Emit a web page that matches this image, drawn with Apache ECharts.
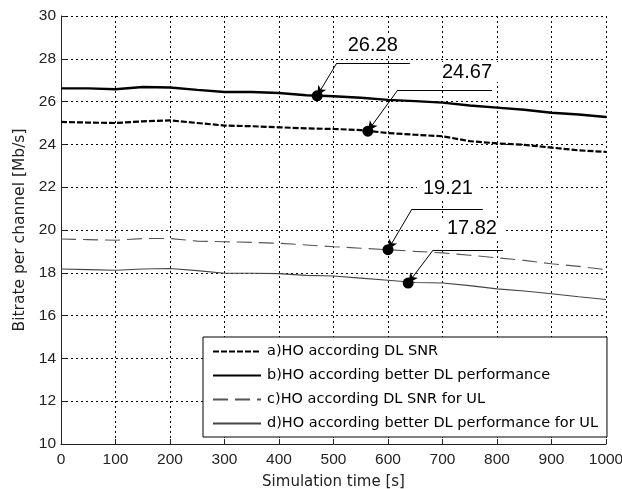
<!DOCTYPE html>
<html>
<head>
<meta charset="utf-8">
<script src="https://cdn.jsdelivr.net/npm/echarts@6/dist/echarts.min.js"></script>
<style>
  html, body { margin: 0; padding: 0; background: #fff; }
  #chart { width: 622px; height: 489px; }
</style>
</head>
<body>
<div id="chart"></div>
<script>
// simulation time [s]
var times = [0, 50, 100, 150, 200, 250, 300, 350, 400, 450, 500, 550, 600, 650, 700, 750, 800, 850, 900, 950, 1000];

// bitrate per channel [Mb/s]
var hoDlSnr     = [25.05, 25.02, 25.00, 25.08, 25.12, 25.00, 24.88, 24.85, 24.80, 24.75, 24.72, 24.67, 24.53, 24.45, 24.38, 24.15, 24.05, 23.98, 23.85, 23.72, 23.65];
var hoBetterDl  = [26.62, 26.62, 26.58, 26.68, 26.66, 26.55, 26.45, 26.45, 26.40, 26.30, 26.25, 26.18, 26.08, 26.02, 25.95, 25.82, 25.72, 25.62, 25.48, 25.40, 25.28];
var hoDlSnrUl   = [19.58, 19.55, 19.52, 19.60, 19.60, 19.48, 19.45, 19.42, 19.38, 19.30, 19.22, 19.15, 19.08, 19.00, 18.93, 18.82, 18.70, 18.58, 18.42, 18.30, 18.15];
var hoBetterUl  = [18.18, 18.15, 18.12, 18.18, 18.20, 18.10, 17.98, 17.98, 17.96, 17.88, 17.85, 17.75, 17.65, 17.55, 17.52, 17.40, 17.25, 17.15, 17.02, 16.88, 16.75];

var seriesNames = [
  'a)HO according DL SNR',
  'b)HO according better DL performance',
  'c)HO according DL SNR for UL',
  'd)HO according better DL performance for UL'
];

var xTicks = [0, 100, 200, 300, 400, 500, 600, 700, 800, 900, 1000];
var yTicks = [10, 12, 14, 16, 18, 20, 22, 24, 26, 28, 30];

// callouts: marked point, elbow of leader line, end of shelf, label position
var calloutText   = ['26.28', '24.67', '19.21', '17.82'];
var calloutSeries = [1, 0, 2, 3];
var calloutPointX = [470, 563, 600, 637];
var calloutPointY = [26.27, 24.62, 19.08, 17.52];
var calloutElbowX = [506, 618, 644, 683];
var calloutElbowY = [27.80, 26.54, 20.98, 19.07];
var calloutEndX   = [640, 791, 774, 811];
var calloutLabelX = [572, 745, 710, 754];
var calloutLabelY = [28.64, 27.38, 21.96, 20.05];

var allValues = [hoDlSnr, hoBetterDl, hoDlSnrUl, hoBetterUl];
var lineStyles = [
  { color: '#000', width: 2.2, type: [6, 2] },
  { color: '#000', width: 2.4, type: 'solid' },
  { color: '#555', width: 1.1, type: [15, 7] },
  { color: '#444', width: 1.1, type: 'solid' }
];

var FONT = '"Liberation Sans", Arial, sans-serif';
var WIDE = '"DejaVu Sans", sans-serif';

var series = allValues.map(function (vals, i) {
  var s = {
    name: seriesNames[i],
    type: 'line',
    symbol: 'none',
    silent: true,
    z: 3,
    lineStyle: lineStyles[i],
    itemStyle: { color: lineStyles[i].color },
    data: times.map(function (t, k) { return [t, vals[k]]; })
  };
  var marks = [], lines = [];
  calloutSeries.forEach(function (si, c) {
    if (si !== i) return;
    marks.push({ coord: [calloutPointX[c], calloutPointY[c]] });
    lines.push([
      { coord: [calloutElbowX[c], calloutElbowY[c]], symbol: 'none' },
      { coord: [calloutPointX[c], calloutPointY[c]], symbol: 'arrow', symbolSize: [7, 10] }
    ]);
    lines.push([
      { coord: [calloutElbowX[c], calloutElbowY[c]], symbol: 'none' },
      { coord: [calloutEndX[c], calloutElbowY[c]], symbol: 'none' }
    ]);
  });
  if (marks.length) {
    s.markPoint = {
      silent: true,
      symbol: 'circle',
      symbolSize: 11,
      itemStyle: { color: '#000' },
      label: { show: false },
      data: marks
    };
    s.markLine = {
      silent: true,
      animation: false,
      symbol: 'none',
      lineStyle: { color: '#000', width: 1, type: 'solid' },
      label: { show: false },
      emphasis: { disabled: true },
      data: lines
    };
  }
  return s;
});

// callout texts
series.push({
  type: 'scatter',
  silent: true,
  symbolSize: 0,
  z: 2,
  itemStyle: { opacity: 1 },
  data: calloutText.map(function (t, c) { return [calloutLabelX[c], calloutLabelY[c], t]; }),
  label: {
    show: true,
    position: 'inside',
    formatter: function (p) { return p.data[2]; },
    fontFamily: FONT,
    fontSize: 20,
    color: '#000',
    backgroundColor: '#fff',
    padding: [0, 6]
  }
});

var chart = echarts.init(document.getElementById('chart'), null, { renderer: 'canvas' });
chart.setOption({
  animation: false,
  backgroundColor: '#fff',
  grid: { left: 61, right: 16, top: 16, bottom: 45, containLabel: false, outerBoundsMode: 'none' },
  legend: {
    orient: 'vertical',
    left: 203,
    top: 337,
    data: seriesNames,
    backgroundColor: '#fff',
    borderColor: '#000',
    borderWidth: 1,
    borderRadius: 0,
    padding: [7, 9, 6, 9],
    itemWidth: 48,
    itemHeight: 14,
    itemGap: 9,
    selectedMode: false,
    itemStyle: { opacity: 0 },
    textStyle: { fontFamily: WIDE, fontSize: 14.5, color: '#000', padding: [0, 0, 0, 1] }
  },
  xAxis: {
    type: 'value',
    min: 0,
    max: 1000,
    interval: 100,
    name: 'Simulation time [s]',
    nameLocation: 'middle',
    nameGap: 31,
    nameTextStyle: { fontFamily: WIDE, fontSize: 15, color: '#222' },
    axisLine: { show: true, onZero: false, lineStyle: { color: '#222', width: 1 } },
    axisTick: { show: true, inside: true, length: 5, lineStyle: { color: '#222' } },
    axisLabel: {
      fontFamily: FONT, fontSize: 15.5, color: '#222', margin: 8,
      formatter: function (v) { return xTicks.indexOf(v) >= 0 ? String(v) : ''; }
    },
    splitLine: { show: true, lineStyle: { color: '#000', width: 1, type: [2, 3] } }
  },
  yAxis: {
    type: 'value',
    min: 10,
    max: 30,
    interval: 2,
    name: 'Bitrate per channel [Mb/s]',
    nameLocation: 'middle',
    nameGap: 33,
    nameTextStyle: { fontFamily: WIDE, fontSize: 15.5, color: '#222' },
    axisLine: { show: true, onZero: false, lineStyle: { color: '#222', width: 1 } },
    axisTick: { show: true, inside: true, length: 5, lineStyle: { color: '#222' } },
    axisLabel: {
      fontFamily: FONT, fontSize: 15.5, color: '#222', margin: 5,
      formatter: function (v) { return yTicks.indexOf(v) >= 0 ? String(v) : ''; }
    },
    splitLine: { show: true, lineStyle: { color: '#000', width: 1, type: [2, 3] } }
  },
  series: series
});
</script>
</body>
</html>
